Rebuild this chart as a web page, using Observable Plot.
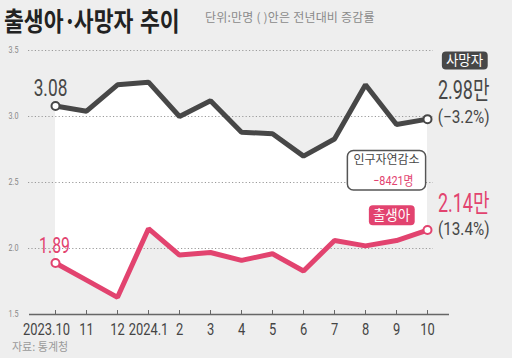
<!DOCTYPE html>
<html><head><meta charset="utf-8">
<script src="https://cdn.jsdelivr.net/npm/d3@7"></script>
<script src="https://cdn.jsdelivr.net/npm/@observablehq/plot@0.6"></script>
<style>
html,body{margin:0;padding:0;background:#eeeeee;}
#wrap{position:relative;width:512px;height:358px;overflow:hidden;background:#eeeeee;}
#title{position:absolute;left:4px;top:7px;font-family:'Noto Sans CJK KR',sans-serif;font-weight:700;font-size:26px;line-height:1;color:#222;transform:scaleX(0.83);transform-origin:0 0;white-space:nowrap;word-spacing:2px;}
#sub{position:absolute;left:205px;top:11px;font-family:'Noto Sans CJK KR',sans-serif;font-size:12px;line-height:1;letter-spacing:0.2px;color:#8a8a8a;white-space:nowrap;}
#chart{position:absolute;left:0;top:40px;}
#src{position:absolute;left:12px;top:341px;font-family:'Noto Sans CJK KR',sans-serif;font-size:11px;line-height:1;color:#9a9a9a;}
</style>
</head><body>
<div id="wrap">
  <div id="title">출생아<span style="letter-spacing:-3px">·</span>사망자 추이</div>
  <div id="sub">단위:만명 ( )안은 전년대비 증감률</div>
  <div id="chart"></div>
  <div id="src">자료: 통계청</div>
</div>
<script>
const months = ["2023.10","11","12","2024.1","2","3","4","5","6","7","8","9","10"];
const deaths = [3.08,3.04,3.24,3.26,3.00,3.12,2.88,2.87,2.70,2.83,3.24,2.94,2.98];
const births = [1.89,1.76,1.63,2.15,1.95,1.97,1.91,1.96,1.83,2.06,2.02,2.06,2.14];
const yTicks = [1.5,2.0,2.5,3.0,3.5];
const deathName = "사망자";
const birthName = "출생아";
const deathEnd = "2.98만";
const deathChange = "(−3.2%)";
const birthEnd = "2.14만";
const birthChange = "(13.4%)";
const naturalLabel = "인구자연감소";
const naturalValue = "−8421명";

const data = months.map((m,i)=>({month:m, death:deaths[i], birth:births[i]}));
const first = data[0], last = data[data.length-1];
const dark = "#474747", pink = "#e2436f";
const num = "Roboto,'Noto Sans CJK KR',sans-serif";
const kr = "'Noto Sans CJK KR',sans-serif";

const plot = Plot.plot({
  width: 512, height: 300,
  marginLeft: 51, marginRight: 82, marginTop: 10, marginBottom: 26,
  style: {background: "transparent", fontFamily: num, overflow: "visible"},
  x: {type: "point", domain: months, padding: 0},
  y: {domain: [1.5, 3.5]},
  marks: [
    Plot.areaY(data, {x: "month", y1: "birth", y2: "death", fill: "#ffffff"}),
    Plot.ruleY(yTicks.filter(t => t > 1.5), {stroke: "#9a9a9a", strokeDasharray: "1.2,2.2", strokeWidth: 1, insetLeft: -23, insetRight: -3}),
    Plot.ruleY([1.5], {stroke: "#666", strokeWidth: 1.5, insetLeft: -22, insetRight: -19}),
    Plot.ruleX(months, {x: d => d, y1: 1.5, y2: 1.53, stroke: "#666", strokeWidth: 1}),
    Plot.axisY({ticks: yTicks, tickSize: 0, tickPadding: 33, tickFormat: d3.format(".1f"), fontSize: 9, color: "#888", label: null, ariaDescription: "c-yaxis"}),
    Plot.axisX({ticks: months.slice(1), tickSize: 0, tickPadding: 8, fontSize: 17, color: "#444", label: null, ariaDescription: "c-xaxis"}),
    Plot.axisX({ticks: months.slice(0, 1), tickSize: 0, tickPadding: 8, dx: -9, fontSize: 17, color: "#444", label: null, ariaDescription: "c-xaxis"}),
    Plot.line(data, {x: "month", y: "death", stroke: dark, strokeWidth: 5, strokeLinejoin: "miter"}),
    Plot.line(data, {x: "month", y: "birth", stroke: pink, strokeWidth: 5, strokeLinejoin: "miter"}),
    Plot.dot([first, last], {x: "month", y: "death", r: 4, fill: "white", stroke: dark, strokeWidth: 2}),
    Plot.dot([first, last], {x: "month", y: "birth", r: 4, fill: "white", stroke: pink, strokeWidth: 2}),
    Plot.text([first], {x: "month", y: "death", text: d => d3.format(".2f")(d.death), dx: -5, dy: -18, fontSize: 24, fill: dark, ariaDescription: "c-big"}),
    Plot.text([first], {x: "month", y: "birth", text: d => d3.format(".2f")(d.birth), dx: -1, dy: -17, fontSize: 22, fill: pink, ariaDescription: "c-big"}),
    Plot.text([last], {x: "month", y: "death", text: () => deathEnd, textAnchor: "end", dx: 62, dy: -28, fontSize: 25, fill: dark, ariaDescription: "c-big"}),
    Plot.text([last], {x: "month", y: "death", text: () => deathChange, textAnchor: "end", dx: 62, dy: -2, fontSize: 18, fill: dark, ariaDescription: "c-pct"}),
    Plot.text([last], {x: "month", y: "birth", text: () => birthEnd, textAnchor: "end", dx: 62, dy: -26, fontSize: 25, fill: pink, ariaDescription: "c-big"}),
    Plot.text([last], {x: "month", y: "birth", text: () => birthChange, textAnchor: "end", dx: 62, dy: -1, fontSize: 18, fill: dark, ariaDescription: "c-pct"}),
    Plot.text([last], {x: "month", y: "death", text: () => deathName, dx: 37, dy: -58, fontSize: 13.5, fill: "white", fontFamily: kr, ariaDescription: "badge-death"}),
    Plot.text([last], {x: "month", y: "birth", text: () => birthName, dx: -36, dy: -14, fontSize: 13.5, fill: "white", fontFamily: kr, ariaDescription: "badge-birth"}),
    Plot.text([last], {x: "month", y: "death", text: () => naturalLabel, dx: -41, dy: 41.5, fontSize: 12, fill: dark, fontFamily: kr, ariaDescription: "badge-natural"}),
    Plot.text([last], {x: "month", y: "death", text: () => naturalValue, textAnchor: "end", dx: -14, dy: 61.5, fontSize: 13, fill: pink, ariaDescription: "badge-natural c-val"})
  ]
});
document.getElementById("chart").appendChild(plot);

function condense(sel, sx) {
  plot.querySelectorAll(sel).forEach(t => {
    const tr = t.getAttribute("transform") || "";
    t.setAttribute("transform", tr + ` scale(${sx},1)`);
    const x = t.getAttribute("x");
    if (x != null && x !== "" && !isNaN(+x)) t.setAttribute("x", +x / sx);
  });
}
condense('g[aria-description="c-xaxis"] text', 0.76);
condense('g[aria-description="c-yaxis"] text', 0.8);
condense('g[aria-description="c-big"] text', 0.72);
condense('g[aria-description="c-pct"] text', 0.85);
condense('g[aria-description~="c-val"] text', 0.83);

function badge(label, fill, stroke, padX, h, r) {
  const gs = plot.querySelectorAll(`g[aria-description~="${label}"]`);
  if (!gs.length) return;
  const sb = plot.getBoundingClientRect();
  let x0 = Infinity, x1 = -Infinity, y0 = Infinity, y1 = -Infinity;
  gs.forEach(g => { const b = g.getBoundingClientRect(); x0 = Math.min(x0, b.left); x1 = Math.max(x1, b.right); y0 = Math.min(y0, b.top); y1 = Math.max(y1, b.bottom); });
  const cy = (y0 + y1) / 2 - sb.top + 1;
  const height = h == null ? (y1 - y0) + 2 : h;
  const rect = document.createElementNS("http://www.w3.org/2000/svg", "rect");
  rect.setAttribute("x", x0 - sb.left - padX);
  rect.setAttribute("y", cy - height / 2);
  rect.setAttribute("width", x1 - x0 + 2 * padX);
  rect.setAttribute("height", height);
  rect.setAttribute("rx", r);
  rect.setAttribute("fill", fill);
  if (stroke) { rect.setAttribute("stroke", stroke); rect.setAttribute("stroke-width", 1.5); }
  gs[0].parentNode.insertBefore(rect, gs[0]);
}
badge("badge-death", dark, null, 4, 18, 4);
badge("badge-birth", pink, null, 4, 20, 4);
badge("badge-natural", "#ffffff", "#555", 6, null, 6);
</script>
</body></html>
